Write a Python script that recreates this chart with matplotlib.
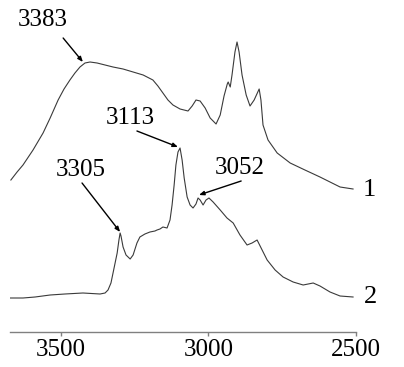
import matplotlib
matplotlib.use("Agg")
import matplotlib.pyplot as plt

plt.rcParams['font.family'] = ['Liberation Serif', 'DejaVu Serif']

# curve 1 (upper spectrum): wavenumber (cm-1) and relative transmittance
wn1 = [3669, 3648, 3628, 3594, 3560, 3536, 3509, 3489, 3469, 3452, 3435, 3418,
       3401, 3377, 3350, 3323, 3289, 3255, 3221, 3188, 3171, 3154, 3137, 3120,
       3096, 3069, 3055, 3042, 3028, 3011, 2994, 2974, 2960, 2947, 2936, 2933,
       2926, 2920, 2910, 2903, 2896, 2886, 2872, 2859, 2845, 2828, 2822, 2815,
       2798, 2767, 2723, 2673, 2622, 2554, 2510]
t1 = [152, 160, 167, 182, 199, 214, 232, 243, 252, 259, 265, 269,
      270, 269, 267, 265, 263, 260, 257, 252, 246, 239, 232, 227,
      223, 221, 226, 232, 231, 224, 214, 208, 217, 236, 248, 250,
      245, 257, 280, 290, 280, 257, 237, 226, 232, 243, 232, 207,
      192, 179, 169, 162, 155, 145, 143]

# curve 2 (lower spectrum)
wn2 = [3672, 3628, 3587, 3536, 3486, 3425, 3367, 3350, 3340, 3330, 3323, 3316,
       3309, 3303, 3299, 3296, 3289, 3279, 3265, 3255, 3242, 3232, 3215, 3198,
       3181, 3174, 3164, 3154, 3140, 3130, 3123, 3116, 3110, 3103, 3096, 3089,
       3082, 3072, 3062, 3052, 3042, 3035, 3028, 3018, 3008, 2998, 2984, 2960,
       2937, 2916, 2893, 2869, 2852, 2835, 2818, 2801, 2774, 2747, 2713, 2679,
       2662, 2645, 2622, 2588, 2554, 2510]
t2 = [34, 34, 35, 37, 38, 39, 38, 39, 42, 49, 59, 69,
      79, 92, 99, 96, 85, 77, 73, 77, 89, 95, 98, 100,
      101, 102, 103, 105, 104, 112, 127, 147, 167, 180, 184, 172,
      154, 135, 127, 124, 128, 134, 132, 127, 132, 134, 130, 122,
      114, 109, 97, 87, 89, 92, 82, 72, 62, 55, 50, 47,
      48, 49, 46, 40, 36, 35]

# peak labels: text, text position, arrow tail, arrow head
peak_labels = ["3383", "3113", "3305", "3052"]
label_pos = [(3560, 312), (3265, 214), (3431, 162), (2893, 164)]
arrow_tail = [(3492, 294), (3242, 201), (3428, 149), (2889, 151)]
arrow_head = [(3425, 270), (3103, 185), (3299, 100), (3032, 137)]

ticks = [3500, 3000, 2500]

fig = plt.figure(figsize=(4.04, 3.67), dpi=100)
ax = fig.add_axes([10 / 404, 1 - 332 / 367, 346 / 404, 332 / 367])

ax.plot(wn1, t1, c='#3a3a3a', lw=0.8)
ax.plot(wn2, t2, c='#3a3a3a', lw=0.8)

for lab, p, tl, hd in zip(peak_labels, label_pos, arrow_tail, arrow_head):
    ax.text(p[0], p[1], lab, fontsize=18, ha='center', va='center')
    ax.annotate('', xy=hd, xytext=tl,
                arrowprops=dict(arrowstyle='-|>,head_length=0.3,head_width=0.12',
                                color='black', lw=1.0, shrinkA=0, shrinkB=0))

ax.text(2456, 142, "1", fontsize=19, ha='center', va='center')
ax.text(2452, 35, "2", fontsize=19, ha='center', va='center')

ax.set_xlim(3672, 2500)
ax.set_ylim(0, 332)
ax.set_xticks(ticks)
ax.set_yticks([])
for s in ['top', 'left', 'right']:
    ax.spines[s].set_visible(False)
ax.spines['bottom'].set_color('#808080')
ax.spines['bottom'].set_linewidth(1.0)
ax.tick_params(axis='x', direction='out', length=3, width=1, color='#808080',
               labelsize=18, pad=2)

fig.savefig("out.png", dpi=100)
